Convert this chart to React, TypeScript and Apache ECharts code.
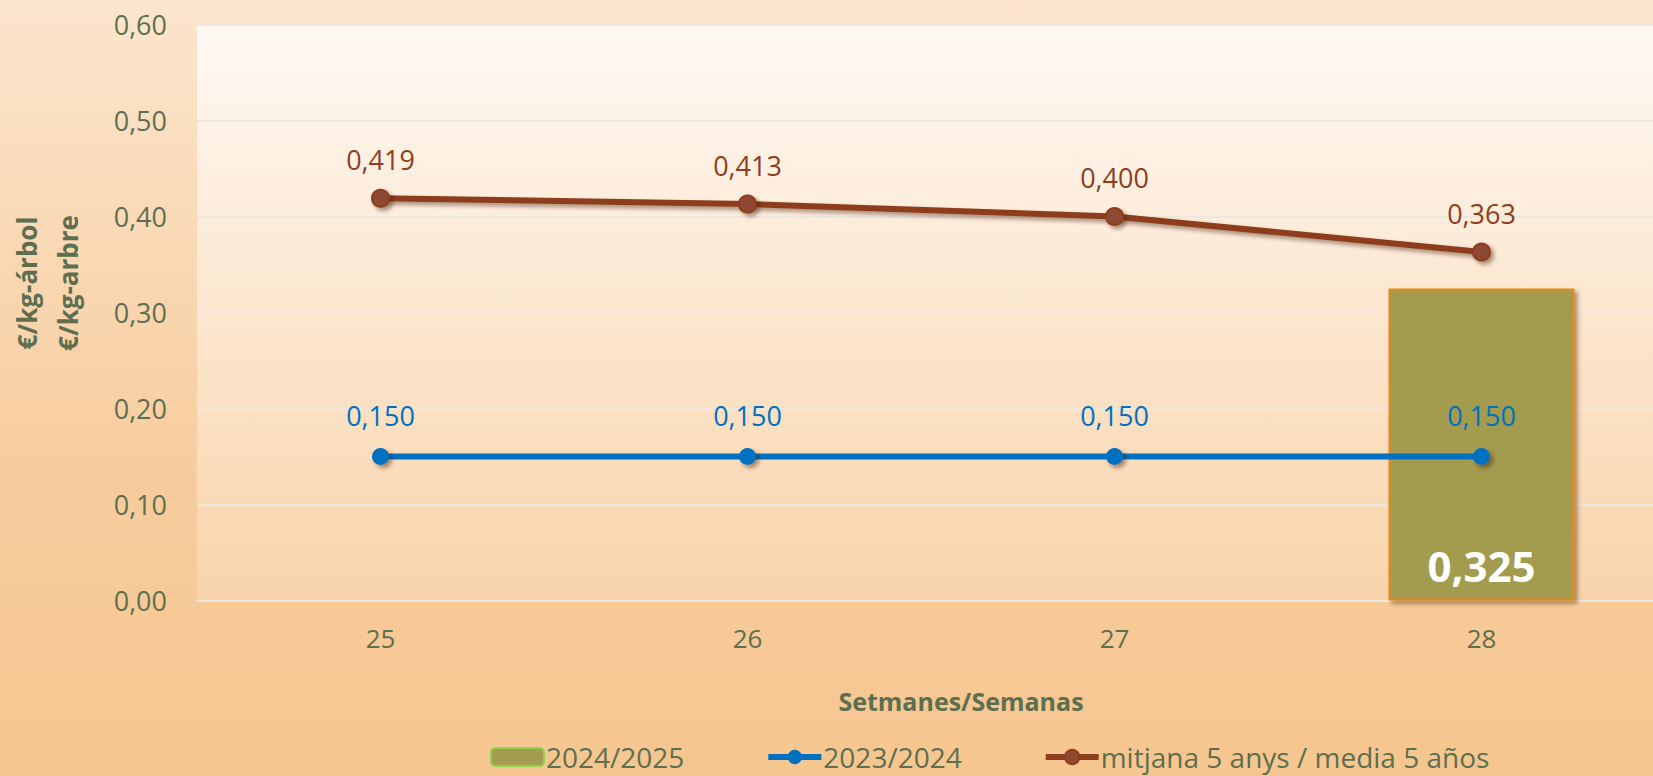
import React, { useEffect, useRef } from "react";
import * as echarts from "echarts";

const weeks = ["25", "26", "27", "28"];
const season2425: (number | null)[] = [null, null, null, 0.325];
const season2324 = [0.15, 0.15, 0.15, 0.15];
const avg5 = [0.419, 0.413, 0.4, 0.363];
const seriesNames = ["2024/2025", "2023/2024", "mitjana 5 anys / media 5 años"];
const yAxisTitle = ["€/kg-árbol", "€/kg-arbre"];
const xAxisTitle = "Setmanes/Semanas";

const FONT = "'Open Sans', 'Noto Sans', sans-serif";
const TXT = "#5E6F4F";
const BROWN = "#8E3E1E";
const BLUE = "#0070C0";
const BAR = "#A39B4D";

const fmt3 = (v: number) => v.toFixed(3).replace(".", ",");
const fmt2 = (v: number) => v.toFixed(2).replace(".", ",");

const shadow = {
  shadowColor: "rgba(60,30,10,0.45)",
  shadowBlur: 4,
  shadowOffsetX: 3,
  shadowOffsetY: 3,
};

export default function App() {
  const ref = useRef<HTMLDivElement>(null);
  useEffect(() => {
    if (!ref.current) return;
    const chart = echarts.init(ref.current, undefined, { renderer: "svg" });
    chart.setOption({
      animation: false,
      backgroundColor: "transparent",
      textStyle: { fontFamily: FONT },
      grid: {
        left: 197,
        top: 24.5,
        width: 1468,
        height: 576,
        show: true,
        borderWidth: 0,
        backgroundColor: new echarts.graphic.LinearGradient(0, 0, 0, 1, [
          { offset: 0, color: "#FFF9F4" },
          { offset: 1, color: "#F8D4AA" },
        ]),
        outerBoundsMode: "none",
        containLabel: false,
      },
      legend: {
        left: 490,
        top: 742,
        padding: 0,
        itemWidth: 53,
        itemHeight: 18,
        itemGap: 81,
        textStyle: {
          fontFamily: FONT,
          fontSize: 28,
          lineHeight: 30,
          color: TXT,
          padding: [0, 0, 0, -3],
        },
        data: [
          { name: seriesNames[0], itemStyle: { borderColor: "#92D050", borderWidth: 2 } },
          { name: seriesNames[1], lineStyle: { width: 6 } },
          { name: seriesNames[2], lineStyle: { width: 6 } },
        ],
      },
      graphic: [
        {
          type: "text",
          x: 47,
          y: 283,
          rotation: Math.PI / 2,
          style: {
            text: yAxisTitle.join("\n"),
            fontFamily: FONT,
            fontSize: 26,
            fontWeight: "bold",
            lineHeight: 41,
            fill: TXT,
            align: "center",
            verticalAlign: "middle",
          },
        },
        {
          type: "text",
          x: 961,
          y: 701,
          style: {
            text: xAxisTitle,
            fontFamily: FONT,
            fontSize: 25,
            fontWeight: "bold",
            fill: TXT,
            align: "center",
            verticalAlign: "middle",
          },
        },
      ],
      xAxis: {
        type: "category",
        data: weeks,
        boundaryGap: true,
        axisLine: { show: true, lineStyle: { color: "#EEE7E0", width: 2 } },
        axisTick: { show: false },
        axisLabel: { fontFamily: FONT, fontSize: 26, color: TXT, margin: 24 },
      },
      yAxis: {
        type: "value",
        min: 0,
        max: 0.6,
        interval: 0.1,
        axisLine: { show: false },
        axisTick: { show: false },
        axisLabel: {
          fontFamily: FONT,
          fontSize: 27,
          color: TXT,
          margin: 30,
          formatter: (v: number) => fmt2(v),
        },
        splitLine: { lineStyle: { color: "#EEE7E0", width: 2 } },
      },
      series: [
        {
          name: seriesNames[0],
          type: "bar",
          data: season2425,
          barWidth: "50.7%",
          itemStyle: { color: BAR, borderColor: "#E8891A", borderWidth: 2, ...shadow },
          label: {
            show: true,
            position: "insideBottom",
            distance: 14,
            fontFamily: FONT,
            fontSize: 42,
            fontWeight: "bold",
            color: "#FFFFFF",
            formatter: (p: any) => fmt3(p.value),
          },
          z: 1,
        },
        {
          name: seriesNames[1],
          type: "line",
          data: season2324,
          symbol: "circle",
          symbolSize: 17,
          lineStyle: { color: BLUE, width: 6 },
          itemStyle: { color: BLUE, ...shadow },
          label: {
            show: true,
            position: "top",
            distance: 19,
            fontFamily: FONT,
            fontSize: 27,
            color: BLUE,
            formatter: (p: any) => fmt3(p.value),
          },
          z: 3,
        },
        {
          name: seriesNames[2],
          type: "line",
          data: avg5,
          symbol: "circle",
          symbolSize: 17,
          lineStyle: { color: BROWN, width: 6, ...shadow },
          itemStyle: { color: "#8E4A30", borderColor: BROWN, borderWidth: 2, ...shadow },
          label: {
            show: true,
            position: "top",
            distance: 16,
            fontFamily: FONT,
            fontSize: 27,
            color: BROWN,
            formatter: (p: any) => fmt3(p.value),
          },
          z: 4,
        },
      ],
    });
    return () => chart.dispose();
  }, []);
  return (
    <div
      ref={ref}
      style={{
        position: "fixed",
        left: 0,
        top: 0,
        width: 1653,
        height: 776,
        background: "linear-gradient(to bottom, #FCE5CE 0%, #F7CD9E 60%, #F6C690 100%)",
      }}
    />
  );
}
